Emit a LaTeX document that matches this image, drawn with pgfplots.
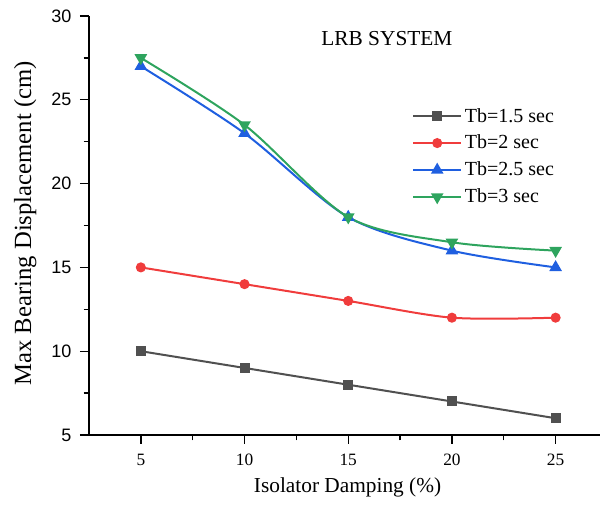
\documentclass[border=0pt]{standalone}
\usepackage{fontspec}
\setmainfont{Liberation Serif}
\newfontfamily\arialf{Liberation Sans}
\usepackage{pgfplots}
\pgfplotsset{compat=1.18}
\definecolor{cgray}{HTML}{505050}
\definecolor{cred}{HTML}{F03C3C}
\definecolor{cblue}{HTML}{1F5FE0}
\definecolor{cgreen}{HTML}{2EA45E}
\begin{document}
\begin{tikzpicture}
\begin{axis}[
  scale only axis,
  width=383.25pt, height=314.25pt,
  xmin=2.5, xmax=27.14, ymin=5, ymax=30,
  axis x line=bottom, axis y line=left,
  axis line style={-, line width=1.1pt, black},
  xtick={5,10,15,20,25},
  ytick={5,10,15,20,25,30},
  minor x tick num=1, minor y tick num=1,
  tick align=outside,
  major tick length=6.75pt, minor tick length=4pt,
  tick style={line width=1pt, black},
  /pgf/number format/assume math mode=true,
  xticklabel style={font=\fontsize{13}{13}\selectfont, yshift=-4pt},
  yticklabel style={font=\arialf\fontsize{13.5}{13.5}\selectfont, xshift=-3pt},
  xlabel={Isolator Damping (\%)},
  ylabel={Max Bearing Displacement (cm)},
  xlabel style={font=\fontsize{16}{16}\selectfont, at={(axis description cs:0.506,-0.126)}, anchor=center},
  ylabel style={font=\fontsize{18.5}{18.5}\selectfont, at={(axis description cs:-0.125,0.505)}, anchor=center, rotate=0},
  legend style={draw=none, fill=none, at={(axis description cs:0.632,0.787)}, anchor=north west,
    font=\fontsize{15}{15}\selectfont, row sep=4.3pt, inner sep=0pt},
  legend cell align=left,
  legend image code/.code={
    \draw[#1, mark repeat=2, mark phase=2] plot coordinates {(0pt,0pt) (18pt,0pt) (36pt,0pt)};
  },
  every axis plot/.append style={line width=1.5pt, smooth, tension=0.5},
  clip=false,
]
\addplot[color=cgray, mark=square*, mark size=3pt, mark options={solid}] coordinates {(5,10) (10,9) (15,8) (20,7) (25,6)};
\addlegendentry{Tb=1.5 sec}
\addplot[color=cred, mark=*, mark size=3pt] coordinates {(5,15) (10,14) (15,13) (20,12) (25,12)};
\addlegendentry{Tb=2 sec}
\addplot[color=cblue, mark=triangle*, mark size=4pt] coordinates {(5,27) (10,23) (15,18) (20,16) (25,15)};
\addlegendentry{Tb=2.5 sec}
\addplot[color=cgreen, mark=triangle*, mark size=4pt, mark options={rotate=180}] coordinates {(5,27.5) (10,23.5) (15,18) (20,16.5) (25,16)};
\addlegendentry{Tb=3 sec}
\node[font=\fontsize{16}{16}\selectfont] at (axis description cs:0.583,0.945) {LRB SYSTEM};
\coordinate (ll) at (rel axis cs:0,0);
\coordinate (ur) at (rel axis cs:1,1);
\end{axis}
\pgfresetboundingbox
\path ([shift={(-66.75pt,-53.25pt)}]ll) rectangle ([shift={(0pt,12pt)}]ur);
\end{tikzpicture}
\end{document}
